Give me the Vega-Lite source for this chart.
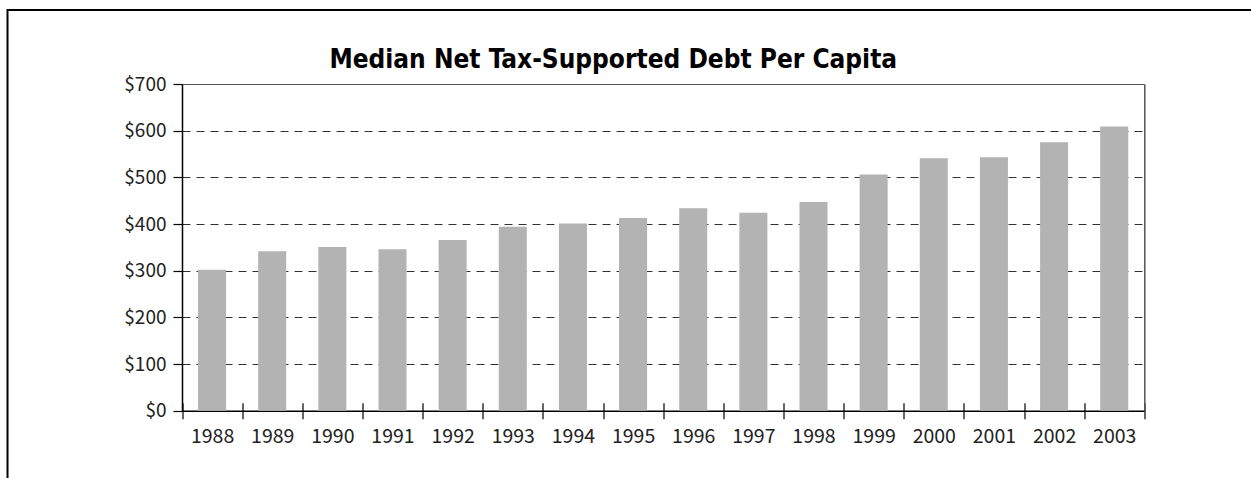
{
  "$schema": "https://vega.github.io/schema/vega-lite/v6.json",
  "autosize": {"type": "none"},
  "padding": {"left": 7.5, "top": 10, "right": -10, "bottom": -10},
  "width": 1253.5,
  "height": 478,
  "background": "white",
  "title": {
    "text": "Median Net Tax-Supported Debt Per Capita",
    "frame": "group",
    "anchor": "middle",
    "orient": "top",
    "offset": 0,
    "baseline": "alphabetic",
    "dx": -21,
    "dy": 84,
    "font": "DejaVu Sans Condensed, Liberation Sans Narrow, sans-serif",
    "fontSize": 26,
    "fontWeight": "bold",
    "color": "#000"
  },
  "data": {
    "values": [
      {"year": "1988", "value": 302},
      {"year": "1989", "value": 342},
      {"year": "1990", "value": 351},
      {"year": "1991", "value": 346},
      {"year": "1992", "value": 366},
      {"year": "1993", "value": 394},
      {"year": "1994", "value": 401},
      {"year": "1995", "value": 413},
      {"year": "1996", "value": 434},
      {"year": "1997", "value": 424},
      {"year": "1998", "value": 447},
      {"year": "1999", "value": 506},
      {"year": "2000", "value": 541},
      {"year": "2001", "value": 543},
      {"year": "2002", "value": 575},
      {"year": "2003", "value": 609}
    ]
  },
  "layer": [
    {
      "mark": {"type": "bar", "color": "#b3b3b3", "width": {"band": 0.466}},
      "encoding": {
        "x": {
          "field": "year",
          "type": "ordinal",
          "scale": {"range": [174.5, 1136.8], "paddingInner": 0, "paddingOuter": 0},
          "axis": {
            "orient": "bottom",
            "offset": -77.2,
            "tickBand": "extent",
            "tickSize": 8,
            "tickColor": "#000",
            "tickWidth": 1.2,
            "domainColor": "#000",
            "domainWidth": 1.5,
            "labelFont": "Noto Sans CJK SC",
            "labelFontSize": 19.5,
            "labelColor": "#222",
            "labelPadding": 9,
            "labelAngle": 0,
            "title": null,
            "grid": false
          }
        },
        "y": {
          "field": "value",
          "type": "quantitative",
          "scale": {"domain": [0, 700], "range": [400.8, 74], "nice": false, "zero": true},
          "axis": {
            "orient": "left",
            "offset": -174.5,
            "values": [0, 100, 200, 300, 400, 500, 600, 700],
            "format": "$d",
            "tickSize": 9,
            "tickColor": "#000",
            "tickWidth": 1.2,
            "domainColor": "#000",
            "domainWidth": 1.5,
            "labelFont": "Noto Sans CJK SC",
            "labelFontSize": 19,
            "labelColor": "#222",
            "labelPadding": 7,
            "title": null,
            "grid": true,
            "gridColor": {"condition": {"test": "datum.value === 700", "value": "#555"}, "value": "#333"},
            "gridDash": {"condition": {"test": "datum.value === 700", "value": []}, "value": [8, 6]},
            "gridOpacity": {"condition": {"test": "datum.value === 0", "value": 0}, "value": 1},
            "gridWidth": 1.2
          }
        }
      }
    },
    {
      "mark": {"type": "bar", "opacity": 0, "width": {"band": 0.466}},
      "encoding": {
        "x": {
          "field": "year",
          "type": "ordinal",
          "axis": {
            "orient": "top",
            "offset": -400.8,
            "tickBand": "extent",
            "tickSize": 8,
            "tickColor": "#000",
            "tickWidth": 1.2,
            "domain": false,
            "labels": false,
            "title": null,
            "grid": false
          }
        },
        "y": {
          "field": "value",
          "type": "quantitative",
          "axis": {
            "orient": "right",
            "offset": -116.7,
            "domainColor": "#555",
            "domainWidth": 1.5,
            "ticks": false,
            "labels": false,
            "grid": false,
            "title": null
          }
        }
      }
    }
  ],
  "resolve": {"axis": {"x": "independent", "y": "independent"}},
  "config": {"view": {"stroke": "#000", "strokeWidth": 2}}
}
